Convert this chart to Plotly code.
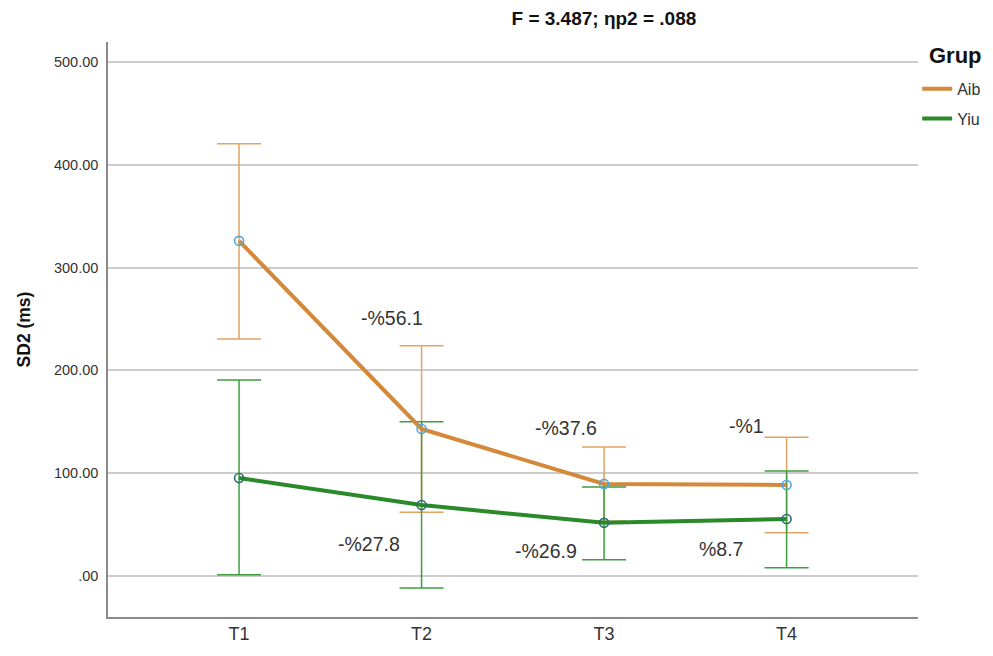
import plotly.graph_objects as go

categories = ["T1", "T2", "T3", "T4"]
groups = ["Aib", "Yiu"]

alb_mean = [326.0, 143.0, 89.5, 88.5]
alb_upper = [420.5, 224.0, 125.5, 135.0]
alb_lower = [230.5, 62.0, 53.5, 42.0]

yiu_mean = [95.3, 69.0, 51.6, 55.4]
yiu_upper = [190.7, 150.0, 86.6, 102.0]
yiu_lower = [1.0, -11.7, 15.6, 8.0]

change_labels = ["-%56.1", "-%37.6", "-%1", "-%27.8", "-%26.9", "%8.7"]
change_x = [0.84, 1.79, 2.78, 0.71, 1.68, 2.64]
change_y = [251, 144, 146, 31, 24, 26]

xs = list(range(len(categories)))
FONT = "Liberation Sans, Arial, sans-serif"

fig = go.Figure()

series = [
    (groups[0], alb_mean, alb_upper, alb_lower, "#D4883A", "#E2A463", "#4FA8E0"),
    (groups[1], yiu_mean, yiu_upper, yiu_lower, "#2A8A2A", "#3F9F3F", "#2A6E6E"),
]

# error bars (no legend)
for name, m, up, lo, lc, ec, mc in series:
    fig.add_trace(go.Scatter(
        x=xs, y=m, mode="markers", showlegend=False, hoverinfo="skip",
        marker=dict(size=1, color="rgba(0,0,0,0)"),
        error_y=dict(type="data", symmetric=False,
                     array=[u - v for u, v in zip(up, m)],
                     arrayminus=[v - l for v, l in zip(m, lo)],
                     color=ec, thickness=1.5, width=22),
    ))

# lines (legend)
for name, m, up, lo, lc, ec, mc in series:
    fig.add_trace(go.Scatter(
        x=xs, y=m, mode="lines", name=name, legendgroup=name,
        line=dict(color=lc, width=4),
    ))

# markers
for name, m, up, lo, lc, ec, mc in series:
    fig.add_trace(go.Scatter(
        x=xs, y=m, mode="markers", showlegend=False,
        marker=dict(symbol="circle-open", size=9, color=mc, line=dict(width=1.6, color=mc)),
    ))

for t, x, y in zip(change_labels, change_x, change_y):
    fig.add_annotation(x=x, y=y, xref="x", yref="y", text=t, showarrow=False,
                       font=dict(size=19.5, color="#333333", family=FONT))

fig.add_annotation(x=1.0457, y=0.977, xref="paper", yref="paper", text="<b>Grup</b>",
                   showarrow=False, xanchor="center", yanchor="middle",
                   font=dict(size=22, color="#111111", family=FONT))

fig.update_layout(
    width=985, height=640,
    margin=dict(l=100, r=75, t=34, b=31, autoexpand=False),
    paper_bgcolor="white", plot_bgcolor="white",
    font=dict(family=FONT, color="#333333"),
    title=dict(text="<b>F = 3.487; ηp2 = .088</b>", x=0.605, xanchor="center",
               y=0.994, yanchor="top", pad=dict(t=0, b=0),
               font=dict(size=19, color="#111111", family=FONT)),
    legend=dict(x=0.999, y=0.948, xanchor="left", yanchor="top",
                font=dict(size=16, color="#333333"), tracegroupgap=6, bgcolor="rgba(0,0,0,0)"),
    showlegend=True,
)

fig.update_xaxes(
    range=[-0.718, 3.72], tickvals=xs, ticktext=categories,
    tickfont=dict(size=18, color="#333333"), showgrid=False,
    showline=True, linecolor="#8a8a8a", linewidth=1.5, zeroline=False,
    ticks="", automargin=False,
)
fig.update_yaxes(
    range=[-40, 519.5], tickvals=[0, 100, 200, 300, 400, 500],
    ticktext=[".00", "100.00", "200.00", "300.00", "400.00", "500.00"],
    tickfont=dict(size=14.5, color="#333333"),
    showgrid=True, gridcolor="#cccccc", gridwidth=1.5,
    showline=True, linecolor="#8a8a8a", linewidth=1.5, zeroline=False,
    ticks="outside", ticklen=5, tickcolor="rgba(0,0,0,0)", automargin=False,
    title=dict(text="<b>SD2 (ms)</b>", font=dict(size=17.5, color="#111111"), standoff=19),
)

fig.write_html("out.html")
